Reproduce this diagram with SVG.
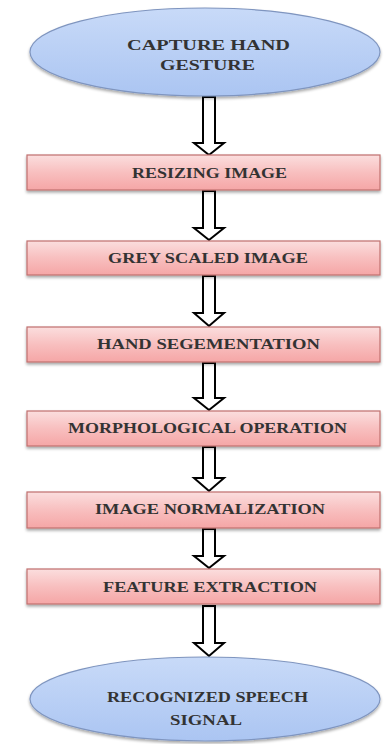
<svg xmlns="http://www.w3.org/2000/svg" width="391" height="744" viewBox="0 0 391 744">
<defs>
<linearGradient id="gPink" x1="0" y1="0" x2="0" y2="1">
<stop offset="0" stop-color="#fbdede"/>
<stop offset="0.5" stop-color="#f8bfbf"/>
<stop offset="1" stop-color="#f5a6a6"/>
</linearGradient>
<linearGradient id="gBlue" x1="0" y1="0" x2="0" y2="1">
<stop offset="0" stop-color="#c8daf8"/>
<stop offset="1" stop-color="#abc5f2"/>
</linearGradient>
<filter id="sh" x="-5%" y="-20%" width="110%" height="150%">
<feGaussianBlur in="SourceAlpha" stdDeviation="1.5"/>
<feOffset dy="2" result="b"/>
<feComponentTransfer><feFuncA type="linear" slope="0.35"/></feComponentTransfer>
<feMerge><feMergeNode/><feMergeNode in="SourceGraphic"/></feMerge>
</filter>
</defs>
<style>
.box{fill:url(#gPink);stroke:#c0706e;stroke-width:1.2;filter:url(#sh)}
.ell{fill:url(#gBlue);stroke:#7f95bf;stroke-width:1.2;filter:url(#sh)}
.t{font-family:"Liberation Serif","Times New Roman",serif;font-size:15px;font-weight:bold;fill:#333;text-anchor:start}
.arr{fill:#fff;stroke:#000;stroke-width:2;stroke-linejoin:miter}
</style>
<g id="connectors">
<path class="arr" d="M203 97 V143 H194 L209 155 L224 143 H215 V97 Z"/>
<path class="arr" d="M203 191 V228 H194 L209 240 L224 228 H215 V191 Z"/>
<path class="arr" d="M203 276 V313 H194 L209 326 L224 313 H215 V276 Z"/>
<path class="arr" d="M203 363 V398 H194 L209 410 L224 398 H215 V363 Z"/>
<path class="arr" d="M203 447 V478 H194 L209 491 L224 478 H215 V447 Z"/>
<path class="arr" d="M203 529 V556 H194 L209 568 L224 556 H215 V529 Z"/>
<path class="arr" d="M203 606 V643 H194 L209 656 L224 643 H215 V606 Z"/>
</g>
<g id="capture">
<ellipse class="ell" cx="205" cy="52" rx="175" ry="44"/>
<text class="t" x="127" y="50" textLength="163" lengthAdjust="spacingAndGlyphs">CAPTURE HAND</text>
<text class="t" x="160" y="70" textLength="95" lengthAdjust="spacingAndGlyphs">GESTURE</text>
</g>
<g id="resizing">
<rect class="box" x="27" y="155" width="353" height="35"/>
<text class="t" x="132" y="178" textLength="155" lengthAdjust="spacingAndGlyphs">RESIZING IMAGE</text>
</g>
<g id="grey">
<rect class="box" x="27" y="241" width="353" height="34"/>
<text class="t" x="108" y="263" textLength="200" lengthAdjust="spacingAndGlyphs">GREY SCALED IMAGE</text>
</g>
<g id="handseg">
<rect class="box" x="27" y="327" width="353" height="35"/>
<text class="t" x="97" y="349" textLength="223" lengthAdjust="spacingAndGlyphs">HAND SEGEMENTATION</text>
</g>
<g id="morph">
<rect class="box" x="27" y="411" width="353" height="35"/>
<text class="t" x="68" y="433" textLength="279" lengthAdjust="spacingAndGlyphs">MORPHOLOGICAL OPERATION</text>
</g>
<g id="norm">
<rect class="box" x="27" y="492" width="353" height="36"/>
<text class="t" x="95" y="514" textLength="230" lengthAdjust="spacingAndGlyphs">IMAGE NORMALIZATION</text>
</g>
<g id="feature">
<rect class="box" x="27" y="569" width="353" height="35"/>
<text class="t" x="103" y="592" textLength="214" lengthAdjust="spacingAndGlyphs">FEATURE EXTRACTION</text>
</g>
<g id="recognized">
<ellipse class="ell" cx="205" cy="699" rx="175" ry="42"/>
<text class="t" x="107" y="702" textLength="201" lengthAdjust="spacingAndGlyphs">RECOGNIZED SPEECH</text>
<text class="t" x="170" y="725" textLength="72" lengthAdjust="spacingAndGlyphs">SIGNAL</text>
</g>
</svg>
